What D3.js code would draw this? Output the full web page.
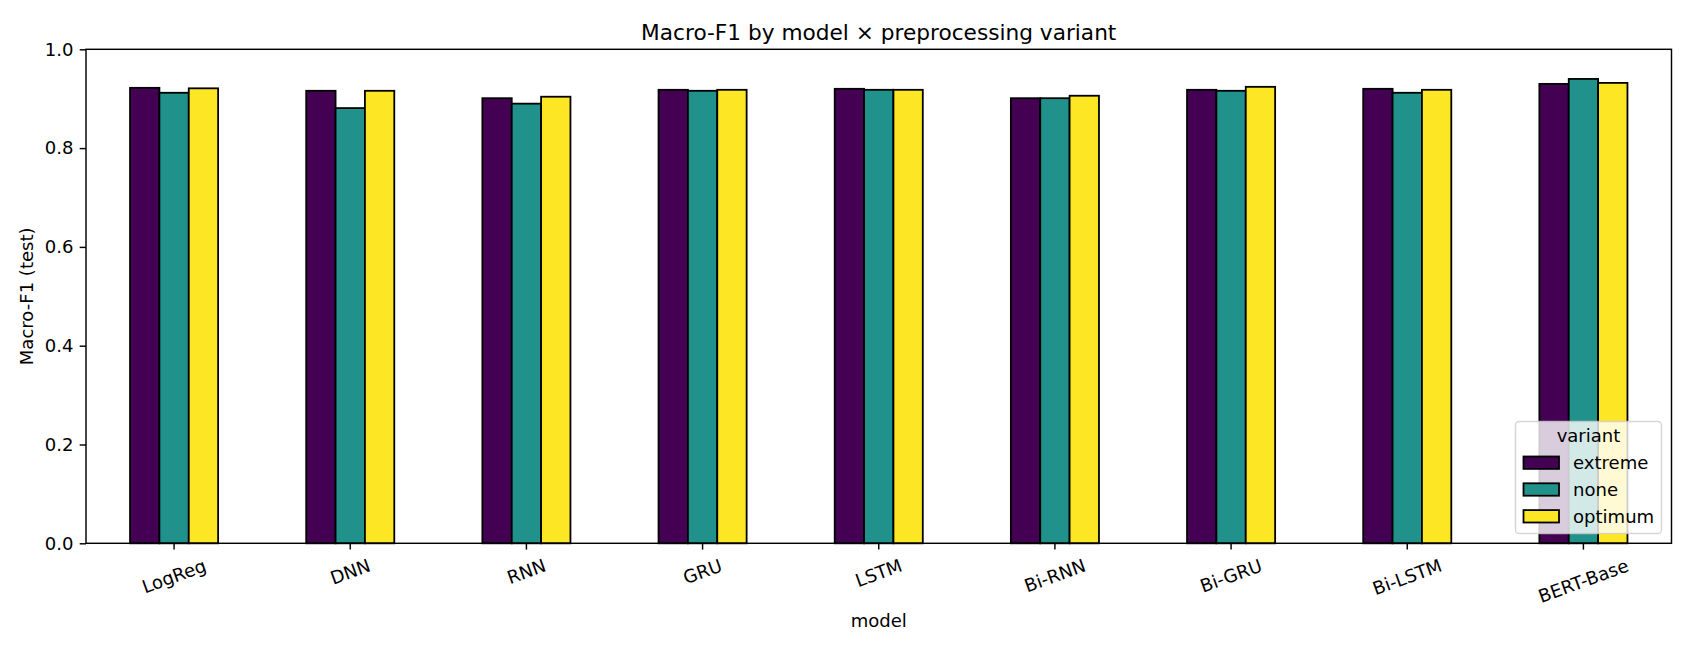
<!DOCTYPE html>
<html><head><meta charset="utf-8">
<script src="https://cdn.jsdelivr.net/npm/d3@7"></script>
<style>body{margin:0;background:#fff} text{font-family:"DejaVu Sans",sans-serif;fill:#000}</style>
</head><body><svg id="c" width="1690" height="650"></svg>
<script>
const models = ["LogReg","DNN","RNN","GRU","LSTM","Bi-RNN","Bi-GRU","Bi-LSTM","BERT-Base"];
const variants = ["extreme","none","optimum"];
const extreme = [0.922,0.916,0.901,0.918,0.920,0.901,0.918,0.920,0.930];
const none = [0.912,0.881,0.890,0.916,0.918,0.901,0.916,0.912,0.940];
const optimum = [0.921,0.916,0.904,0.918,0.918,0.906,0.924,0.918,0.932];
const yTicks = [0,0.2,0.4,0.6,0.8,1.0];
const colors = ["#440154","#21918c","#fde725"];
const title = "Macro-F1 by model \u00d7 preprocessing variant";
const xLabel = "model", yLabel = "Macro-F1 (test)", legendTitle = "variant";

const series = [extreme, none, optimum];
const L = 86, R = 1671.5, T = 49.3, B = 543.3;
const fs = 18.06;
const tl = 6.32;
const svg = d3.select("#c");

const x0 = d3.scaleBand().domain(models).range([L, R]).padding(0);
const bw = x0.bandwidth();
const x1 = d3.scaleBand().domain(variants).range([bw*0.25, bw*0.75]).padding(0);
const y = d3.scaleLinear().domain([0, 1]).range([B, T]);

// bars
const g = svg.append("g");
models.forEach((m, i) => {
  variants.forEach((v, j) => {
    g.append("rect")
      .attr("x", x0(m) + x1(v))
      .attr("y", y(series[j][i]))
      .attr("width", x1.bandwidth())
      .attr("height", y(0) - y(series[j][i]))
      .attr("fill", colors[j])
      .attr("stroke", "#000")
      .attr("stroke-width", 1.8);
  });
});

// y axis
const yAxis = d3.axisLeft(y).tickValues(yTicks).tickFormat(d3.format(".1f")).tickSize(tl).tickPadding(tl);
const ya = svg.append("g").attr("transform", `translate(${L},0)`).call(yAxis);
ya.select(".domain").remove();
ya.selectAll(".tick line").attr("stroke", "#000").attr("stroke-width", 1.44);
ya.selectAll(".tick text").attr("font-size", fs).attr("font-family", "DejaVu Sans").attr("fill", "#000");

// x axis
const xAxis = d3.axisBottom(x0).tickSize(tl).tickPadding(tl);
const xa = svg.append("g").attr("transform", `translate(0,${B})`).call(xAxis);
xa.select(".domain").remove();
xa.selectAll(".tick line").attr("stroke", "#000").attr("stroke-width", 1.44);
const th = 20 * Math.PI / 180;
xa.selectAll(".tick text").each(function() {
  const t = d3.select(this);
  t.attr("font-size", fs).attr("font-family", "DejaVu Sans").attr("fill", "#000").attr("dy", null);
  const w = this.getComputedTextLength();
  const h = 1.05 * fs;
  const H = w * Math.sin(th) + h * Math.cos(th);
  const cy = 2 * tl + H / 2;
  t.attr("y", null).attr("text-anchor", "middle")
   .attr("transform", `translate(0,${cy}) rotate(-20)`)
   .attr("dy", (0.346*fs) + "px");
});

// spines
svg.append("rect").attr("x", L).attr("y", T).attr("width", R - L).attr("height", B - T)
  .attr("fill", "none").attr("stroke", "#000").attr("stroke-width", 1.44);

// title & labels
svg.append("text").attr("x", (L + R) / 2).attr("y", 39.5).attr("text-anchor", "middle")
  .attr("font-size", 21.67).text(title);
svg.append("text").attr("x", (L + R) / 2).attr("y", 627).attr("text-anchor", "middle")
  .attr("font-size", fs).text(xLabel);
svg.append("text").attr("transform", `translate(33,${(T + B) / 2}) rotate(-90)`)
  .attr("text-anchor", "middle").attr("font-size", fs).text(yLabel);

// legend
const lg = svg.append("g");
lg.append("rect").attr("x", 1515.5).attr("y", 421.5).attr("width", 146).attr("height", 112)
  .attr("rx", 3.6).attr("ry", 3.6)
  .attr("fill", "#fff").attr("fill-opacity", 0.8)
  .attr("stroke", "#ccc").attr("stroke-opacity", 0.8).attr("stroke-width", 1.44);
lg.append("text").attr("x", 1588.5).attr("y", 442.3).attr("text-anchor", "middle")
  .attr("font-size", fs).text(legendTitle);
const ly = d3.scaleBand().domain(variants).range([449.3, 529.7]).padding(0);
variants.forEach((v, j) => {
  const cy = ly(v) + ly.bandwidth() / 2;
  lg.append("rect").attr("x", 1523.5).attr("y", cy - 6.2).attr("width", 35.5).attr("height", 12.4)
    .attr("fill", colors[j]).attr("stroke", "#000").attr("stroke-width", 1.8);
  lg.append("text").attr("x", 1573).attr("y", cy + 6.3).attr("font-size", fs).text(v);
});
</script></body></html>
